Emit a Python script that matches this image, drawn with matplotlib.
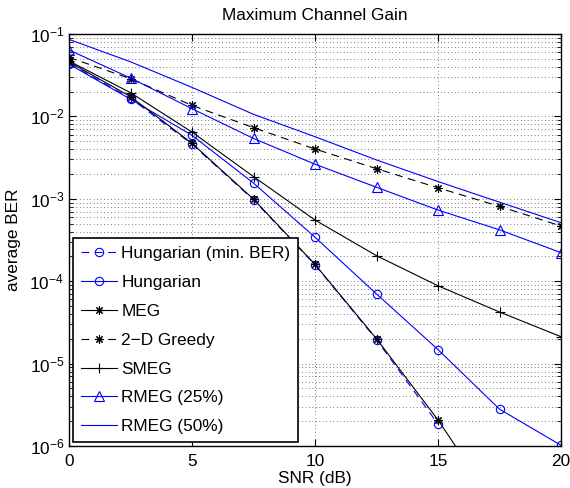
import numpy as np
import matplotlib
matplotlib.use("Agg")
import matplotlib.pyplot as plt
from matplotlib.ticker import LogLocator, NullFormatter, FixedLocator

plt.rcParams['font.family'] = ['Liberation Sans', 'DejaVu Sans']
plt.rcParams['mathtext.fontset'] = 'custom'
plt.rcParams['mathtext.rm'] = 'Liberation Sans'
plt.rcParams['mathtext.it'] = 'Liberation Sans:italic'
plt.rcParams['font.size'] = 12.4

snr = [0, 2.5, 5, 7.5, 10, 12.5, 15, 17.5, 20]
snr_minber = [0, 2.5, 5, 7.5, 10, 12.5, 15]

hung_minber = [0.044, 0.0166, 0.0046, 0.00097, 0.000158, 1.95e-5, 1.85e-6]
hungarian = [0.043, 0.0162, 0.0059, 0.00155, 0.000342, 7.0e-5, 1.48e-5, 2.8e-6, 1.02e-6]
meg = [0.0457, 0.0174, 0.00471, 0.00099, 0.00016, 2.0e-5, 2.07e-6, 1.6e-7, 1.2e-8]
greedy2d = [0.052, 0.0287, 0.0136, 0.0073, 0.00402, 0.00232, 0.00136, 0.00081, 0.000468]
smeg = [0.047, 0.0194, 0.00645, 0.00186, 0.000553, 0.000204, 8.8e-5, 4.23e-5, 2.12e-5]
rmeg25 = [0.064, 0.0292, 0.0124, 0.0054, 0.00263, 0.00138, 0.00073, 0.00042, 0.000222]
rmeg50 = [0.086, 0.046, 0.0225, 0.0106, 0.00567, 0.00296, 0.00162, 0.00091, 0.000513]

labels = ['Hungarian (min. BER)', 'Hungarian', 'MEG', '2\u2212D Greedy', 'SMEG',
          'RMEG (25%)', 'RMEG (50%)']

fig = plt.figure(figsize=(5.70, 4.88), dpi=100)
ax = fig.add_axes([69/570, 1-446/488, (561-69)/570, (446-34)/488])

lw = 0.8
ms = 6
mew = 0.8
ast = (8, 2, 0)
dash = (0, (7, 5))
ax.semilogy(snr_minber, hung_minber, color='blue', ls=dash, lw=lw, marker='o',
            mfc='none', mec='blue', ms=ms, mew=mew, label=labels[0])
ax.semilogy(snr, hungarian, color='blue', ls='-', lw=lw, marker='o',
            mfc='none', mec='blue', ms=ms, mew=mew, label=labels[1])
ax.semilogy(snr, meg, color='black', ls='-', lw=lw, marker=ast,
            mec='black', ms=ms, mew=mew, label=labels[2])
ax.semilogy(snr, greedy2d, color='black', ls=dash, lw=lw, marker=ast,
            mec='black', ms=ms, mew=mew, label=labels[3])
ax.semilogy(snr, smeg, color='black', ls='-', lw=lw, marker='+',
            mec='black', ms=ms + 1, mew=mew, label=labels[4])
ax.semilogy(snr, rmeg25, color='blue', ls='-', lw=lw, marker='^',
            mfc='none', mec='blue', ms=ms + 1, mew=mew, label=labels[5])
ax.semilogy(snr, rmeg50, color='blue', ls='-', lw=lw, label=labels[6])

ax.set_xlim(0, 20)
ax.set_ylim(1e-6, 1e-1)
ax.xaxis.set_major_locator(FixedLocator([0, 5, 10, 15, 20]))
ax.set_xticklabels(['0', '5', '10', '15', '20'])
ax.yaxis.set_major_locator(LogLocator(base=10, numticks=10))
ax.yaxis.set_minor_locator(LogLocator(base=10, subs=np.arange(2, 10), numticks=20))
ax.yaxis.set_minor_formatter(NullFormatter())

ax.tick_params(which='both', direction='in', top=True, right=True)
ax.tick_params(which='major', length=5, width=0.8)
ax.tick_params(axis='x', which='major', pad=6)
ax.tick_params(which='minor', length=3, width=0.6)
ax.grid(True, which='major', axis='x', color='black', ls=(0, (1, 4)), lw=0.5)
ax.grid(True, which='major', axis='y', color='black', ls=(0, (1, 4)), lw=0.5)
ax.grid(True, which='minor', axis='y', color='black', ls=(0, (1, 4)), lw=0.5)
for s in ax.spines.values():
    s.set_linewidth(1.0)

ax.set_title('Maximum Channel Gain', fontsize=12.4, pad=10)
ax.set_xlabel('SNR (dB)', labelpad=1)
ax.set_ylabel('average BER', labelpad=6)

leg = ax.legend(loc='lower left', bbox_to_anchor=(4/492, 4/412), fancybox=False,
                edgecolor='black', framealpha=1, handlelength=2.1,
                labelspacing=0.8, borderaxespad=0, handletextpad=0.25,
                borderpad=0.45)
leg.get_frame().set_linewidth(1.2)

fig.savefig('out.png', dpi=100)
